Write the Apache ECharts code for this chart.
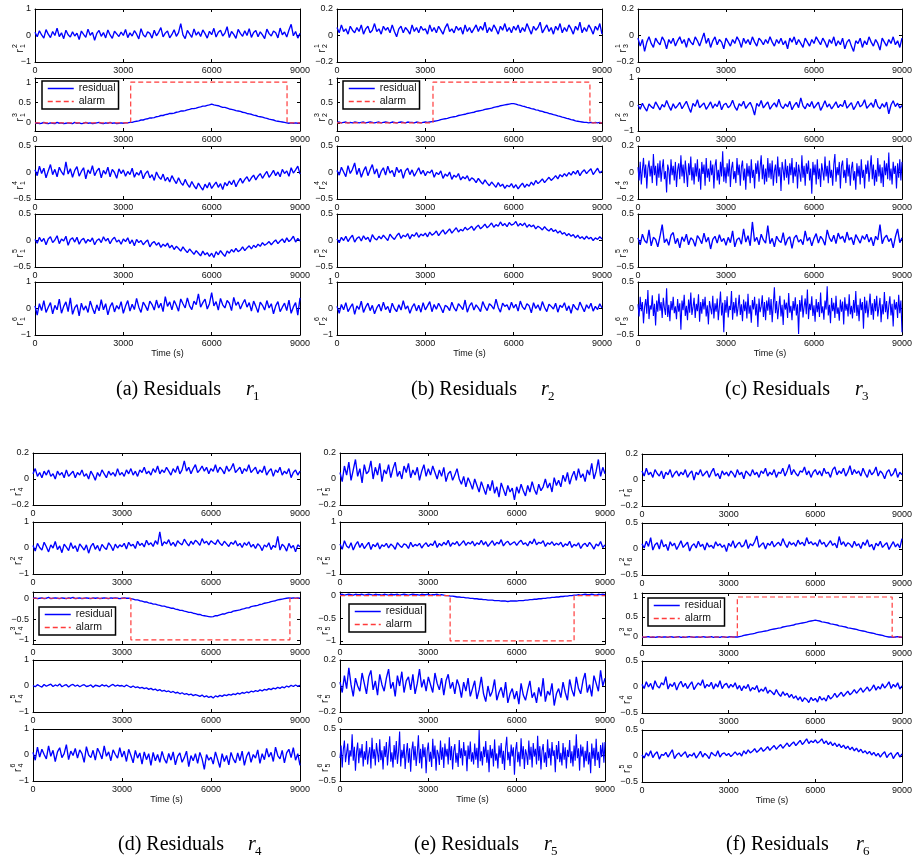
<!DOCTYPE html>
<html>
<head>
<meta charset="utf-8">
<script src="https://cdn.jsdelivr.net/npm/echarts@6/dist/echarts.min.js"></script>
<style>
  html, body { margin: 0; padding: 0; background: #fff; }
  #main { width: 915px; height: 863px; }
</style>
</head>
<body>
<div id="main"></div>
<script>
// ---- time axis ----
const TIME_END = 9000;          // seconds
const TIME_TICKS = [0, 3000, 6000, 9000];

// ---- residual records, evenly sampled over 0 .. 9000 s ----
// (121 samples = every 75 s; the busiest channels keep 241 samples = every 37.5 s)
// panel (a): residual generator r1
const r1_2 = [0.12,-0.05,0.18,0.02,-0.10,0.22,0.05,-0.08,0.15,0.00,0.28,-0.04,0.10,-0.12,0.20,0.03,-0.06,0.14,-0.02,0.09,
  -0.15,0.17,0.04,-0.07,0.24,0.01,0.12,-0.18,0.08,0.19,-0.03,0.11,-0.09,0.21,0.02,-0.11,0.16,0.06,-0.04,0.13,
  0.00,0.23,-0.08,0.10,-0.02,0.18,0.05,-0.13,0.26,0.03,-0.06,0.14,0.08,-0.10,0.20,-0.01,0.12,0.30,-0.05,0.09,
  0.17,-0.09,0.04,0.22,-0.03,0.11,0.45,0.02,-0.12,0.19,0.06,-0.07,0.25,0.01,0.14,-0.04,0.21,0.07,-0.10,0.16,
  0.03,0.27,-0.06,0.12,0.20,-0.02,0.09,0.33,-0.08,0.15,0.04,-0.11,0.23,0.08,-0.03,0.18,0.00,0.26,-0.07,0.11,
  0.19,-0.05,0.14,0.02,-0.12,0.24,0.07,-0.02,0.17,0.10,-0.09,0.28,0.03,0.13,-0.06,0.21,0.42,-0.01,0.15,-0.10,
  0.08];
const r1_3 = [-0.01,0.00,-0.02,-0.01,0.01,-0.01,-0.02,0.00,-0.01,-0.02,0.01,-0.01,0.00,-0.02,-0.01,0.00,-0.01,-0.02,0.01,-0.01,
  0.00,-0.02,-0.01,0.01,-0.01,0.00,-0.02,-0.01,0.00,0.01,-0.01,-0.02,0.00,-0.01,0.01,-0.01,0.00,-0.02,-0.01,0.00,
  -0.01,0.00,0.00,0.01,0.01,0.03,0.04,0.05,0.07,0.07,0.09,0.10,0.12,0.12,0.13,0.15,0.16,0.18,0.18,0.20,
  0.21,0.23,0.23,0.24,0.26,0.27,0.29,0.29,0.30,0.32,0.33,0.35,0.35,0.36,0.38,0.39,0.41,0.41,0.43,0.44,
  0.46,0.44,0.43,0.42,0.40,0.38,0.38,0.36,0.34,0.33,0.32,0.30,0.29,0.28,0.26,0.25,0.23,0.22,0.21,0.19,
  0.18,0.16,0.15,0.14,0.12,0.11,0.09,0.08,0.07,0.05,0.04,0.03,0.02,0.01,0.00,-0.01,0.00,-0.01,0.00,-0.01,
  0.00];
const r1_4 = [0.05,-0.06,0.12,-0.02,0.08,-0.10,0.03,0.15,-0.04,0.06,-0.08,0.10,0.01,-0.05,0.20,-0.03,0.07,-0.09,0.04,0.11,
  -0.07,0.02,0.09,-0.12,0.05,-0.02,0.13,-0.06,0.03,0.08,-0.10,0.04,-0.03,0.10,-0.08,0.06,0.00,-0.11,0.07,-0.02,
  0.05,-0.07,0.02,-0.04,0.08,-0.09,0.00,-0.05,0.04,-0.12,-0.02,0.03,-0.10,-0.04,-0.15,0.01,-0.08,-0.13,-0.03,-0.16,
  -0.09,-0.18,-0.06,-0.14,-0.21,-0.10,-0.19,-0.24,-0.13,-0.22,-0.28,-0.17,-0.25,-0.31,-0.20,-0.27,-0.33,-0.22,-0.29,-0.19,
  -0.30,-0.24,-0.18,-0.28,-0.21,-0.32,-0.19,-0.25,-0.16,-0.23,-0.14,-0.27,-0.18,-0.11,-0.20,-0.13,-0.08,-0.17,-0.10,-0.05,
  -0.14,-0.07,-0.02,-0.11,-0.04,0.02,-0.09,-0.03,0.04,-0.06,0.01,-0.08,0.06,-0.02,0.03,-0.07,0.09,-0.01,0.05,0.12,
  -0.03];
const r1_5 = [0.02,-0.05,0.06,-0.02,0.04,-0.08,0.03,0.07,-0.04,0.01,0.09,-0.06,0.03,-0.01,0.08,-0.09,0.02,0.05,-0.03,0.06,
  -0.07,0.01,0.04,-0.05,0.02,-0.02,0.05,-0.08,0.00,0.03,-0.04,0.07,-0.01,0.04,-0.06,0.02,0.06,-0.03,0.01,-0.07,
  0.03,-0.02,0.05,-0.06,0.01,-0.10,0.02,-0.04,0.00,-0.08,-0.03,0.01,-0.12,-0.05,-0.02,-0.09,-0.04,-0.13,-0.07,-0.11,
  -0.05,-0.14,-0.09,-0.17,-0.11,-0.15,-0.20,-0.12,-0.18,-0.23,-0.16,-0.21,-0.26,-0.19,-0.24,-0.29,-0.20,-0.27,-0.23,-0.30,
  -0.24,-0.32,-0.21,-0.27,-0.19,-0.25,-0.30,-0.20,-0.24,-0.17,-0.22,-0.15,-0.21,-0.18,-0.12,-0.19,-0.14,-0.10,-0.16,-0.09,
  -0.13,-0.07,-0.11,-0.04,-0.09,-0.06,-0.02,-0.08,-0.03,0.01,-0.06,-0.01,0.03,-0.04,0.05,-0.02,0.02,0.08,-0.03,0.04,
  -0.01];
const r1_6 = [0.10,-0.25,0.18,-0.08,0.30,-0.15,0.05,0.22,-0.20,0.12,-0.05,0.35,-0.18,0.08,0.25,-0.12,0.40,-0.22,0.03,0.15,
  -0.28,0.20,-0.06,0.10,-0.15,0.28,0.02,-0.20,0.14,-0.09,0.33,-0.05,0.18,-0.24,0.07,0.22,-0.13,0.11,-0.02,0.26,
  -0.18,0.09,0.30,-0.10,0.16,-0.04,0.38,0.05,-0.15,0.24,0.10,-0.08,0.28,0.15,-0.06,0.32,0.02,0.20,-0.12,0.45,
  0.08,0.25,-0.05,0.30,0.12,-0.10,0.36,0.18,0.02,0.40,0.10,-0.04,0.28,0.15,0.55,0.05,0.22,0.35,-0.02,0.18,
  0.60,0.10,0.26,-0.06,0.38,0.14,0.02,0.30,0.20,-0.08,0.42,0.12,0.25,-0.02,0.18,0.34,0.05,0.22,-0.10,0.28,
  0.08,-0.15,0.24,0.12,-0.06,0.30,0.02,0.18,-0.20,0.10,0.26,-0.12,0.05,0.20,-0.08,0.32,-0.18,0.06,0.22,-0.25,
  0.40];

// panel (b): residual generator r2
const r2_1 = [0.06,0.02,0.08,0.03,0.05,0.01,0.07,0.04,0.02,0.06,0.03,0.08,0.01,0.05,0.07,0.02,0.04,0.09,0.03,0.05,
  0.01,0.07,0.04,0.06,0.02,0.08,0.03,-0.01,0.05,0.07,0.02,0.06,0.04,0.01,0.08,0.03,0.06,0.02,0.07,0.04,
  0.05,0.01,0.08,0.03,0.06,0.02,0.07,0.04,0.01,0.06,0.09,0.03,0.05,0.02,0.07,0.04,0.06,0.01,0.08,0.03,
  0.06,0.02,0.05,0.08,0.03,0.07,0.04,0.10,0.02,0.06,0.03,0.08,0.05,0.01,0.07,0.04,0.09,0.03,0.06,0.02,
  0.07,0.04,0.08,0.02,0.06,0.03,0.09,0.05,0.01,0.07,0.04,0.06,0.10,0.02,0.05,0.08,0.03,0.06,0.01,0.07,
  0.04,0.09,0.02,0.06,0.03,0.08,0.05,0.01,0.07,0.04,0.10,0.02,0.06,0.03,0.08,0.05,0.01,0.07,0.04,0.09,
  0.01];
const r2_3 = [0.01,0.02,0.00,0.01,0.02,0.00,0.01,0.00,0.02,0.01,0.00,0.01,0.02,0.00,0.01,0.02,0.01,0.00,0.01,0.02,
  0.00,0.01,0.02,0.01,0.00,0.02,0.01,0.00,0.01,0.02,0.01,0.00,0.02,0.01,0.01,0.00,0.02,0.01,0.00,0.01,
  0.02,0.01,0.02,0.03,0.04,0.05,0.06,0.08,0.09,0.10,0.11,0.13,0.14,0.15,0.16,0.18,0.19,0.20,0.21,0.23,
  0.24,0.25,0.26,0.28,0.29,0.30,0.31,0.33,0.34,0.35,0.36,0.38,0.39,0.40,0.42,0.43,0.44,0.45,0.46,0.47,
  0.47,0.46,0.44,0.43,0.41,0.40,0.38,0.37,0.35,0.34,0.32,0.31,0.29,0.28,0.26,0.25,0.23,0.22,0.20,0.19,
  0.17,0.16,0.14,0.13,0.11,0.10,0.08,0.07,0.05,0.04,0.03,0.02,0.01,0.01,0.00,0.01,0.00,0.01,0.00,0.01,
  0.00];
const r2_4 = [0.04,-0.05,0.10,0.01,-0.08,0.13,-0.02,0.06,0.18,-0.04,0.08,-0.09,0.03,0.11,-0.06,0.05,0.15,-0.03,0.07,-0.10,
  0.02,0.09,-0.05,0.12,-0.01,0.04,-0.08,0.10,0.00,0.06,-0.11,0.03,0.08,-0.04,0.05,-0.07,0.01,0.09,-0.03,0.04,
  -0.06,0.02,-0.01,0.05,-0.09,0.00,-0.04,0.03,-0.11,-0.03,-0.07,0.01,-0.13,-0.05,-0.09,-0.02,-0.14,-0.08,-0.12,-0.06,
  -0.16,-0.10,-0.13,-0.19,-0.11,-0.17,-0.22,-0.14,-0.20,-0.25,-0.18,-0.23,-0.28,-0.19,-0.26,-0.22,-0.30,-0.24,-0.27,-0.21,
  -0.29,-0.23,-0.31,-0.25,-0.20,-0.28,-0.22,-0.26,-0.18,-0.24,-0.15,-0.21,-0.17,-0.12,-0.19,-0.14,-0.09,-0.15,-0.11,-0.06,
  -0.12,-0.04,-0.08,-0.02,-0.07,0.00,-0.05,0.02,-0.03,0.04,-0.06,0.01,0.05,-0.02,0.03,0.07,-0.04,0.02,0.08,-0.01,
  0.03];
const r2_5 = [0.03,-0.04,0.06,0.00,0.08,-0.02,0.05,0.10,-0.03,0.04,0.07,-0.01,0.09,0.02,0.06,-0.03,0.11,0.04,0.01,0.08,
  0.03,0.10,0.05,0.00,0.12,0.06,0.02,0.09,0.14,0.04,0.10,0.07,0.13,0.03,0.11,0.08,0.15,0.06,0.12,0.09,
  0.14,0.07,0.16,0.10,0.13,0.18,0.09,0.15,0.20,0.12,0.17,0.22,0.14,0.19,0.24,0.16,0.21,0.18,0.25,0.20,
  0.23,0.27,0.19,0.25,0.29,0.22,0.26,0.31,0.24,0.28,0.33,0.25,0.30,0.27,0.35,0.28,0.32,0.26,0.34,0.29,
  0.31,0.36,0.27,0.32,0.28,0.33,0.25,0.30,0.26,0.29,0.22,0.27,0.24,0.20,0.26,0.21,0.18,0.23,0.17,0.20,
  0.14,0.18,0.12,0.15,0.09,0.13,0.08,0.11,0.05,0.10,0.04,0.07,0.02,0.08,0.03,0.06,0.00,0.05,0.02,0.07,
  0.03];
const r2_6 = [0.08,-0.18,0.15,-0.05,0.22,-0.12,0.04,0.18,-0.22,0.10,-0.03,0.28,-0.15,0.06,0.20,-0.08,0.12,-0.20,0.02,0.16,
  -0.10,0.24,-0.04,0.08,-0.16,0.20,0.00,-0.12,0.14,-0.06,0.30,-0.02,0.10,-0.18,0.05,0.18,-0.09,0.12,-0.14,0.22,
  -0.05,0.10,0.26,-0.12,0.15,-0.03,0.20,0.04,-0.16,0.12,0.06,-0.08,0.24,0.02,-0.10,0.18,0.08,-0.04,0.32,-0.14,
  0.10,0.22,-0.06,0.14,0.02,-0.12,0.26,0.06,-0.08,0.18,0.10,-0.02,0.35,0.04,-0.14,0.20,0.08,0.14,-0.06,0.24,
  0.02,0.16,-0.10,0.28,0.06,-0.04,0.18,0.10,-0.16,0.22,0.00,0.14,-0.08,0.26,0.04,-0.12,0.16,0.08,-0.02,0.20,
  -0.14,0.12,0.04,0.22,-0.08,0.10,-0.18,0.16,0.02,-0.06,0.24,0.06,-0.12,0.14,0.00,0.20,-0.10,0.08,-0.04,0.18,
  0.02];

// panel (c): residual generator r3
const r3_1 = [-0.02,-0.08,-0.03,-0.12,-0.05,-0.01,-0.06,-0.09,-0.02,-0.05,-0.07,-0.01,-0.04,-0.10,-0.03,-0.06,-0.02,-0.08,-0.04,-0.01,
  -0.06,-0.03,-0.09,-0.02,-0.05,-0.07,-0.01,-0.04,-0.08,-0.03,0.02,-0.06,-0.02,-0.09,-0.04,-0.01,-0.07,-0.03,-0.05,-0.10,
  -0.02,-0.05,-0.08,-0.03,-0.06,-0.01,-0.04,-0.09,-0.02,-0.06,-0.03,-0.07,-0.01,-0.05,-0.08,-0.02,-0.04,-0.07,-0.03,-0.06,
  -0.01,-0.05,-0.08,-0.03,-0.06,-0.02,-0.07,-0.04,-0.10,-0.02,-0.05,-0.01,-0.07,-0.03,-0.06,-0.09,-0.02,-0.05,-0.08,-0.03,
  -0.06,-0.01,-0.04,-0.07,-0.02,-0.05,-0.09,-0.03,-0.06,-0.01,-0.08,-0.04,-0.07,-0.02,-0.10,-0.05,-0.03,-0.08,-0.12,-0.04,
  -0.06,-0.02,-0.09,-0.04,-0.07,-0.01,-0.05,-0.08,-0.03,-0.06,-0.11,-0.02,-0.05,-0.08,-0.03,-0.06,-0.01,-0.07,-0.04,-0.09,
  -0.02];
const r3_2 = [-0.02,-0.18,0.05,-0.12,-0.25,0.02,-0.08,-0.15,0.10,-0.05,-0.20,0.00,-0.10,0.15,-0.06,-0.22,0.03,-0.14,-0.04,0.08,
  -0.16,-0.02,0.12,-0.10,-0.30,0.04,-0.07,0.18,-0.12,-0.03,0.06,-0.18,-0.05,0.10,-0.14,0.02,-0.08,0.14,-0.20,-0.01,
  0.05,-0.12,-0.04,0.16,-0.09,-0.22,0.03,-0.06,0.12,-0.15,-0.02,0.08,-0.11,-0.40,0.04,-0.07,0.15,-0.13,-0.01,0.10,
  -0.18,-0.04,0.06,-0.10,0.20,-0.06,-0.15,0.02,-0.09,0.12,-0.20,-0.03,0.08,-0.12,0.25,-0.05,-0.16,0.04,-0.08,0.11,
  -0.14,-0.02,0.09,-0.22,-0.06,0.14,-0.10,0.02,-0.17,-0.04,0.10,-0.12,0.00,-0.08,0.16,-0.14,-0.03,0.07,-0.19,-0.05,
  0.12,-0.09,-0.01,0.18,-0.14,-0.04,0.06,-0.11,0.20,-0.07,-0.16,0.03,-0.10,0.09,-0.35,-0.02,0.14,-0.08,0.05,-0.13,
  -0.04];
const r3_4 = [0.04,-0.06,0.08,-0.09,0.02,0.11,-0.04,0.06,-0.12,0.03,0.09,-0.03,0.05,-0.08,0.14,-0.02,0.05,-0.10,0.07,-0.04,
  0.09,-0.07,0.03,0.10,-0.05,0.01,-0.15,0.06,0.02,-0.09,0.10,-0.02,0.05,-0.06,0.08,-0.11,0.02,0.07,-0.05,0.13,
  -0.03,0.06,-0.08,0.09,0.00,-0.11,0.07,-0.02,0.12,-0.06,0.04,-0.09,0.07,-0.03,0.10,-0.07,0.03,-0.13,0.08,-0.01,
  0.06,-0.10,0.11,-0.04,0.03,-0.07,0.09,-0.02,0.06,-0.12,0.05,0.10,-0.06,0.02,-0.09,0.08,-0.03,0.16,-0.07,0.04,
  -0.08,0.07,-0.03,0.10,-0.11,0.03,0.08,-0.05,0.01,-0.08,0.11,-0.02,0.06,-0.10,0.04,0.09,-0.06,0.03,-0.13,0.07,
  -0.03,0.05,-0.08,0.10,-0.04,0.02,-0.12,0.07,-0.01,0.09,-0.07,0.04,0.13,-0.05,0.06,-0.09,0.03,-0.07,0.11,-0.04,
  0.07,-0.05,0.09,-0.10,0.01,0.06,-0.08,0.12,-0.03,0.04,-0.14,0.08,0.02,-0.06,0.10,-0.04,0.05,-0.09,0.07,-0.02,
  0.11,-0.08,0.04,-0.03,0.08,-0.12,0.06,0.00,-0.07,0.13,-0.04,0.05,-0.10,0.07,-0.01,0.09,-0.06,0.03,-0.16,0.08,
  -0.02,0.06,-0.09,0.10,-0.05,0.03,-0.11,0.07,0.01,-0.06,0.12,-0.03,0.05,-0.08,0.09,-0.04,0.02,-0.10,0.06,0.14,
  -0.07,0.04,-0.02,0.08,-0.12,0.05,0.09,-0.04,0.02,-0.08,0.11,-0.03,0.06,-0.10,0.03,0.08,-0.06,0.01,-0.13,0.07,
  -0.03,0.05,-0.09,0.10,-0.04,0.02,-0.12,0.06,-0.01,0.09,-0.07,0.03,0.13,-0.05,0.06,-0.10,0.02,-0.07,0.11,-0.03,
  0.06,-0.08,0.04,-0.11,0.09,-0.02,0.07,-0.05,0.15,-0.06,0.03,-0.09,0.08,-0.01,0.05,-0.12,0.07,-0.04,0.10,-0.06,
  0.08];
const r3_5 = [0.05,-0.08,0.12,0.00,-0.05,0.20,-0.10,0.06,0.02,-0.12,0.08,0.30,-0.04,0.03,-0.09,0.10,0.15,-0.06,0.04,-0.14,
  0.07,-0.02,0.12,-0.08,0.05,0.01,-0.11,0.09,0.03,-0.06,0.14,-0.03,0.06,-0.16,0.02,0.08,-0.05,0.11,-0.02,0.04,
  -0.09,0.06,-0.04,0.18,-0.12,0.02,0.05,-0.07,0.22,-0.03,0.09,-0.10,0.35,-0.02,0.06,-0.08,0.12,0.01,-0.05,0.28,
  -0.06,0.04,-0.12,0.08,0.00,-0.04,0.15,-0.09,0.03,0.07,-0.15,0.05,0.10,-0.03,0.02,-0.08,0.18,-0.01,0.06,-0.10,
  0.04,0.13,-0.05,0.08,0.02,-0.09,0.20,0.05,-0.02,0.10,-0.06,0.14,0.03,0.08,-0.04,0.16,0.01,0.06,-0.08,0.11,
  0.03,-0.05,0.09,0.02,0.12,-0.03,0.06,-0.10,0.08,0.01,0.30,-0.06,0.05,0.10,-0.02,0.04,-0.14,0.07,0.22,-0.04,
  0.05];
const r3_6 = [0.08,-0.15,0.22,-0.05,0.12,-0.28,0.03,0.18,-0.10,0.35,-0.20,0.06,-0.02,0.25,-0.14,0.09,-0.32,0.15,-0.06,0.28,
  -0.04,0.12,-0.18,0.20,0.01,-0.12,0.38,-0.16,0.07,-0.24,0.14,-0.03,0.22,-0.09,0.04,-0.20,0.18,-0.06,0.10,-0.40,
  0.15,-0.03,0.26,-0.14,0.05,-0.22,0.17,-0.08,0.30,-0.12,0.02,0.20,-0.18,0.09,-0.05,0.27,-0.25,0.12,-0.10,0.18,
  -0.02,0.22,-0.15,0.06,-0.30,0.14,0.01,-0.11,0.24,-0.19,0.10,-0.06,0.19,-0.22,0.04,0.32,-0.13,0.11,-0.45,0.16,
  -0.08,0.23,-0.17,0.05,-0.03,0.33,-0.21,0.12,-0.09,0.20,-0.15,0.02,0.26,-0.12,0.08,-0.24,0.17,-0.05,0.13,-0.19,
  0.28,-0.10,0.06,-0.27,0.16,-0.02,0.22,-0.13,0.09,-0.35,0.19,-0.07,0.04,0.25,-0.16,0.12,-0.22,0.15,-0.04,0.21,
  -0.12,0.18,-0.26,0.08,0.40,-0.09,0.14,-0.20,0.03,0.24,-0.15,0.07,-0.31,0.17,-0.02,0.11,-0.18,0.29,-0.08,0.05,
  -0.22,0.14,-0.04,0.21,-0.13,0.08,-0.48,0.16,-0.06,0.25,-0.17,0.03,0.19,-0.11,0.36,-0.20,0.09,-0.03,0.23,-0.14,
  0.06,-0.25,0.18,-0.07,0.12,-0.16,0.30,-0.09,0.04,-0.21,0.15,-0.02,0.42,-0.13,0.07,-0.28,0.20,-0.05,0.11,-0.18,
  0.24,-0.10,0.02,-0.23,0.17,-0.06,0.13,-0.30,0.21,-0.04,0.09,-0.15,0.27,-0.11,0.05,-0.19,0.16,-0.08,0.33,-0.14,
  0.07,-0.24,0.19,-0.03,0.12,-0.38,0.22,-0.09,0.15,-0.17,0.04,0.28,-0.12,0.10,-0.21,0.18,-0.05,0.24,-0.15,0.02,
  0.20,-0.26,0.08,-0.11,0.31,-0.07,0.14,-0.20,0.05,0.23,-0.13,0.09,-0.34,0.17,-0.02,0.12,-0.18,0.26,-0.09,0.15,
  -0.45];

// panel (d): residual generator r4
const r4_1 = [0.04,0.08,0.02,0.05,0.01,0.06,0.03,0.07,0.02,0.04,0.00,0.06,0.03,0.05,0.01,0.07,0.02,0.04,0.06,0.01,
  0.05,0.03,0.07,0.02,0.04,0.00,0.06,0.03,-0.01,0.05,0.02,0.07,0.04,0.01,0.06,0.03,0.05,0.02,0.08,0.03,
  0.05,0.02,0.07,0.04,0.08,0.03,0.06,0.02,0.07,0.05,0.09,0.04,0.06,0.03,0.08,0.05,0.10,0.04,0.07,0.05,
  0.09,0.06,0.03,0.08,0.05,0.10,0.04,0.07,0.14,0.06,0.09,0.04,0.08,0.11,0.05,0.07,0.10,0.06,0.09,0.04,
  0.08,0.06,0.11,0.05,0.09,0.07,0.04,0.10,0.06,0.08,0.12,0.05,0.07,0.09,0.04,0.08,0.06,0.11,0.05,0.07,
  0.09,0.04,0.07,0.05,0.10,0.03,0.06,0.08,0.02,0.07,0.05,0.09,0.03,0.06,0.04,0.08,0.01,0.05,0.07,0.03,
  0.06];
const r4_2 = [0.10,-0.12,0.18,0.02,-0.08,0.22,0.05,-0.15,0.12,0.00,0.25,-0.06,0.08,-0.18,0.15,0.03,-0.10,0.20,-0.02,0.09,
  -0.14,0.16,0.04,-0.08,0.12,-0.20,0.06,0.18,-0.05,0.10,-0.12,0.14,0.02,-0.06,0.20,0.08,-0.10,0.15,0.00,0.12,
  0.05,0.18,-0.04,0.22,0.08,0.14,-0.02,0.26,0.10,0.18,0.04,0.30,0.12,0.20,0.06,0.28,0.14,0.62,0.08,0.24,
  0.16,0.32,0.10,0.22,0.06,0.28,0.18,0.12,0.34,0.20,0.08,0.26,0.14,0.30,0.22,0.10,0.36,0.18,0.26,0.12,
  0.28,0.20,0.14,0.32,0.18,0.10,0.26,0.16,0.06,0.22,0.14,0.28,0.08,0.18,0.02,0.20,0.10,0.24,0.04,0.14,
  -0.02,0.16,0.08,-0.10,0.12,0.04,0.20,-0.06,0.10,0.02,0.45,-0.08,0.14,0.06,-0.12,0.18,0.00,0.10,-0.15,0.12,
  0.05];
const r4_3 = [0.00,0.01,-0.01,0.00,0.01,-0.01,0.00,0.02,-0.01,0.00,0.01,0.00,-0.01,0.01,0.00,-0.01,0.01,0.00,0.02,-0.01,
  0.00,0.01,-0.01,0.00,0.01,0.00,-0.01,0.01,0.00,0.01,-0.01,0.00,0.01,0.00,-0.01,0.01,0.00,0.01,0.00,-0.01,
  0.00,0.01,0.00,0.00,-0.01,-0.02,-0.04,-0.04,-0.06,-0.07,-0.09,-0.09,-0.11,-0.12,-0.14,-0.14,-0.16,-0.17,-0.19,-0.19,
  -0.21,-0.22,-0.24,-0.24,-0.26,-0.27,-0.29,-0.29,-0.31,-0.32,-0.34,-0.34,-0.36,-0.37,-0.39,-0.39,-0.41,-0.42,-0.43,-0.44,
  -0.45,-0.44,-0.42,-0.42,-0.40,-0.38,-0.38,-0.36,-0.34,-0.34,-0.31,-0.30,-0.29,-0.28,-0.26,-0.25,-0.23,-0.23,-0.20,-0.19,
  -0.18,-0.17,-0.15,-0.14,-0.12,-0.11,-0.10,-0.08,-0.07,-0.06,-0.04,-0.03,-0.02,-0.01,0.00,0.01,0.00,0.01,0.00,0.01,
  0.00];
const r4_5 = [0.02,-0.03,0.05,0.00,-0.04,0.06,-0.01,0.03,0.07,-0.02,0.04,0.00,0.08,-0.03,0.02,0.05,-0.04,0.03,0.06,-0.01,
  0.04,-0.03,0.02,0.05,-0.02,0.00,0.04,-0.05,0.03,0.01,-0.02,0.05,0.00,0.03,-0.04,0.02,0.06,-0.01,0.03,0.00,
  0.02,-0.03,0.04,-0.01,-0.05,0.00,-0.06,-0.03,-0.08,-0.05,-0.10,-0.07,-0.13,-0.09,-0.15,-0.12,-0.18,-0.14,-0.20,-0.17,
  -0.22,-0.19,-0.25,-0.21,-0.27,-0.24,-0.30,-0.26,-0.32,-0.29,-0.34,-0.31,-0.37,-0.33,-0.36,-0.40,-0.35,-0.42,-0.38,-0.44,
  -0.40,-0.46,-0.38,-0.42,-0.36,-0.40,-0.34,-0.37,-0.32,-0.35,-0.30,-0.33,-0.27,-0.31,-0.25,-0.28,-0.23,-0.26,-0.20,-0.23,
  -0.18,-0.21,-0.15,-0.19,-0.13,-0.16,-0.10,-0.14,-0.08,-0.11,-0.05,-0.09,-0.03,-0.07,0.00,-0.04,0.03,-0.02,0.04,-0.01,
  0.02];
const r4_6 = [0.10,-0.20,0.30,-0.08,0.22,0.02,-0.15,0.35,-0.05,0.18,-0.25,0.12,0.28,-0.10,0.05,0.40,-0.18,0.15,-0.02,0.25,
  -0.12,0.20,0.05,-0.28,0.32,0.00,-0.10,0.18,-0.20,0.26,0.08,-0.15,0.35,-0.05,0.12,-0.22,0.20,0.02,-0.12,0.28,
  -0.08,0.15,-0.25,0.22,-0.02,-0.30,0.18,-0.12,0.08,-0.35,0.12,-0.18,0.05,-0.40,0.10,-0.22,0.02,-0.28,0.14,-0.15,
  -0.32,0.06,-0.20,0.12,-0.38,-0.05,0.08,-0.28,-0.10,0.15,-0.45,-0.02,-0.22,0.05,-0.32,0.10,-0.15,-0.55,0.02,-0.20,
  -0.08,-0.35,0.12,-0.18,-0.48,0.05,-0.25,-0.02,-0.38,0.10,-0.15,-0.30,0.08,-0.22,0.15,-0.40,-0.05,0.12,-0.28,0.02,
  -0.12,0.20,-0.32,0.05,-0.18,0.25,-0.08,0.10,-0.25,0.30,-0.02,-0.15,0.18,-0.30,0.08,0.22,-0.10,0.28,-0.20,0.05,
  -0.40];

// panel (e): residual generator r5
const r5_1 = [0.05,-0.02,0.10,0.03,0.13,-0.01,0.07,0.15,0.02,0.08,-0.03,0.11,0.04,0.06,0.14,0.00,0.09,0.03,0.12,-0.02,
  0.07,0.04,0.11,0.01,0.08,0.13,0.02,0.06,0.00,0.10,0.05,0.12,0.01,0.07,0.03,0.09,-0.01,0.06,0.11,0.02,
  0.08,0.03,0.10,0.05,0.00,0.07,0.02,0.09,-0.02,0.04,0.06,-0.01,0.03,0.08,0.00,-0.04,0.02,-0.06,0.01,-0.03,
  -0.08,0.00,-0.05,-0.10,-0.02,-0.07,-0.12,-0.04,-0.09,-0.01,-0.11,-0.06,-0.14,-0.03,-0.08,-0.13,-0.05,-0.10,-0.07,-0.16,
  -0.06,-0.11,-0.04,-0.09,-0.13,-0.05,-0.10,-0.02,-0.08,-0.12,-0.04,-0.09,-0.06,0.00,-0.07,-0.03,-0.10,0.01,-0.05,-0.01,
  -0.06,0.03,-0.02,0.05,-0.04,0.02,0.06,-0.01,0.08,0.01,0.04,-0.02,0.07,0.03,0.12,0.00,0.06,0.15,0.02,0.09,
  0.04];
const r5_2 = [0.15,-0.05,0.28,0.08,0.00,0.20,-0.08,0.12,0.25,0.02,0.18,-0.02,0.10,0.22,-0.06,0.14,0.05,0.20,-0.04,0.12,
  0.06,0.18,0.00,0.15,0.08,-0.05,0.20,0.10,0.02,0.16,0.12,-0.02,0.22,0.05,0.14,0.08,0.18,0.00,0.12,0.20,
  0.05,0.16,0.10,0.28,0.02,0.18,0.08,0.22,0.12,0.30,0.06,0.20,0.14,0.25,0.08,0.18,0.28,0.10,0.22,0.15,
  0.26,0.08,0.20,0.14,0.30,0.12,0.24,0.06,0.18,0.28,0.10,0.22,0.16,0.32,0.08,0.20,0.26,0.12,0.18,0.24,
  0.10,0.22,0.30,0.14,0.20,0.08,0.26,0.16,0.35,0.12,0.22,0.18,0.28,0.06,0.20,0.14,0.24,0.10,0.18,0.12,
  0.22,0.04,0.16,0.10,0.26,0.02,0.14,0.08,0.20,-0.02,0.12,0.18,0.05,0.22,0.10,-0.04,0.15,0.08,0.25,0.02,
  0.12];
const r5_3 = [0.02,0.03,0.01,0.02,0.03,0.02,0.01,0.03,0.02,0.02,0.03,0.01,0.02,0.03,0.02,0.01,0.03,0.02,0.02,0.01,
  0.03,0.02,0.01,0.03,0.02,0.02,0.03,0.01,0.02,0.03,0.02,0.01,0.02,0.03,0.02,0.02,0.01,0.03,0.02,0.02,
  0.03,0.01,0.02,0.02,0.03,0.01,0.02,0.01,0.00,0.00,-0.01,-0.01,-0.02,-0.03,-0.03,-0.04,-0.04,-0.05,-0.05,-0.06,
  -0.06,-0.07,-0.07,-0.08,-0.08,-0.09,-0.09,-0.10,-0.10,-0.10,-0.11,-0.11,-0.11,-0.12,-0.12,-0.12,-0.13,-0.12,-0.12,-0.12,
  -0.12,-0.11,-0.11,-0.11,-0.10,-0.10,-0.09,-0.09,-0.08,-0.08,-0.07,-0.07,-0.06,-0.06,-0.05,-0.05,-0.04,-0.04,-0.03,-0.03,
  -0.02,-0.02,-0.01,-0.01,0.00,0.00,0.01,0.01,0.02,0.01,0.02,0.03,0.02,0.02,0.03,0.02,0.01,0.03,0.02,0.03,
  0.02];
const r5_4 = [0.03,-0.05,0.08,-0.02,0.14,0.01,-0.08,0.06,0.00,-0.04,0.10,0.02,-0.06,0.07,0.12,-0.03,0.04,-0.07,0.09,0.01,
  -0.04,0.06,0.13,-0.02,0.03,-0.08,0.08,0.00,0.11,-0.05,0.04,0.07,-0.03,0.09,-0.06,0.02,0.13,-0.01,0.05,-0.04,
  0.07,0.01,-0.05,0.10,0.02,-0.03,0.06,-0.07,0.04,0.09,-0.02,0.03,-0.06,0.05,0.00,-0.09,0.03,-0.04,0.06,-0.08,
  -0.02,0.04,-0.10,-0.03,0.07,-0.06,-0.12,0.00,-0.08,-0.04,0.05,-0.11,-0.05,-0.01,-0.09,0.03,-0.13,-0.06,-0.02,-0.10,
  -0.04,-0.14,0.02,-0.07,-0.11,-0.03,0.04,-0.09,-0.05,-0.13,-0.01,-0.08,0.06,-0.12,-0.04,-0.07,0.02,-0.15,-0.06,-0.02,
  -0.09,0.03,-0.05,-0.11,0.05,-0.03,-0.08,0.07,-0.02,-0.06,0.04,0.10,-0.05,0.01,-0.08,0.08,0.02,-0.04,0.12,0.00,
  0.06];
const r5_6 = [-0.06,0.18,-0.24,0.10,0.28,-0.14,0.04,0.22,-0.19,0.09,-0.03,0.40,-0.11,0.16,-0.30,0.06,0.24,-0.16,0.13,-0.05,
  0.21,-0.22,0.07,-0.09,0.27,-0.18,0.02,0.15,-0.26,0.33,-0.07,0.11,-0.20,0.23,0.04,-0.14,0.30,-0.10,0.09,-0.28,
  0.17,-0.04,0.25,-0.20,0.08,0.36,-0.13,0.05,-0.24,0.19,-0.09,0.27,-0.17,0.06,0.45,-0.22,0.10,-0.06,0.21,-0.27,
  0.03,0.23,-0.15,0.13,-0.32,0.09,0.26,-0.10,0.17,-0.21,0.05,0.38,-0.16,0.12,-0.26,0.21,-0.04,0.15,-0.35,0.08,
  0.24,-0.13,0.06,-0.23,0.31,-0.07,0.18,-0.30,0.10,0.02,-0.19,0.28,-0.09,0.15,-0.25,0.22,-0.03,0.12,-0.18,0.34,
  -0.10,0.17,-0.28,0.08,0.21,-0.15,0.04,-0.23,0.29,-0.06,0.13,-0.20,0.25,-0.02,0.09,-0.31,0.18,-0.08,0.26,-0.13,
  0.05,-0.18,0.22,-0.09,0.14,-0.25,0.48,-0.12,0.07,-0.20,0.16,-0.04,0.27,-0.15,0.10,-0.33,0.19,-0.06,0.12,-0.22,
  0.30,-0.11,0.03,-0.26,0.18,-0.05,0.23,-0.17,0.08,-0.29,0.14,0.35,-0.10,0.06,-0.21,0.20,-0.03,0.15,-0.38,0.09,
  0.25,-0.14,0.06,-0.22,0.32,-0.08,0.17,-0.27,0.11,0.01,-0.19,0.28,-0.09,0.16,-0.24,0.23,-0.03,0.12,-0.18,0.37,
  -0.11,0.17,-0.28,0.08,0.21,-0.15,0.05,-0.23,0.30,-0.06,0.13,-0.20,0.25,-0.02,0.09,-0.33,0.19,-0.08,0.27,-0.14,
  0.04,-0.20,0.23,-0.09,0.15,-0.26,0.10,-0.04,0.29,-0.16,0.07,-0.22,0.18,-0.11,0.40,-0.06,0.13,-0.30,0.20,-0.03,
  0.16,-0.24,0.08,-0.12,0.27,-0.18,0.05,-0.35,0.22,-0.07,0.14,-0.21,0.31,-0.10,0.06,-0.25,0.19,-0.04,0.24,-0.15,
  0.25];

// panel (f): residual generator r6
const r6_1 = [0.07,0.03,0.09,0.04,0.06,0.02,0.08,0.05,0.03,0.07,0.01,0.06,0.04,0.08,0.02,0.05,0.07,0.03,0.06,0.04,
  0.08,0.02,0.05,0.07,0.00,0.06,0.04,0.08,0.03,0.05,0.07,0.02,0.06,0.09,0.03,0.05,0.01,0.07,0.04,0.06,
  0.03,0.07,0.05,0.02,0.08,0.04,0.06,0.01,0.07,0.05,0.03,0.08,0.04,0.06,0.02,0.07,0.05,0.09,0.03,0.06,
  0.04,0.08,0.02,0.06,0.05,0.09,0.03,0.07,0.12,0.04,0.08,0.05,0.03,0.07,0.06,0.10,0.04,0.07,0.02,0.06,
  0.08,0.04,0.07,0.03,0.09,0.05,0.06,0.02,0.08,0.10,0.04,0.07,0.05,0.09,0.03,0.06,0.11,0.04,0.08,0.05,
  0.07,0.03,0.09,0.05,0.02,0.08,0.04,0.06,0.10,0.03,0.07,0.05,0.01,0.06,0.08,0.03,0.05,0.09,0.02,0.06,
  0.04];
const r6_2 = [0.10,0.02,0.15,0.05,0.22,-0.02,0.08,0.12,0.00,0.18,0.04,0.09,-0.03,0.14,0.06,0.11,-0.01,0.07,0.16,0.03,
  0.08,0.13,-0.04,0.06,0.10,0.02,0.15,0.05,0.09,-0.02,0.12,0.04,0.07,0.01,0.14,0.06,0.10,0.03,0.08,-0.05,
  0.11,0.05,0.16,0.02,0.09,0.13,0.04,0.07,0.18,0.01,0.10,0.06,0.14,0.25,0.03,0.08,0.12,0.00,0.11,0.07,
  0.15,0.04,0.09,0.13,0.06,0.20,0.10,0.03,0.14,0.08,0.12,0.05,0.17,0.09,0.13,0.06,0.22,0.10,0.14,0.08,
  0.12,0.05,0.18,0.09,0.13,0.04,0.10,0.16,0.07,0.11,0.02,0.24,0.08,0.14,0.05,0.12,0.09,0.03,0.15,0.06,
  0.10,0.01,0.13,0.07,0.18,0.04,0.09,-0.02,0.11,0.06,0.15,0.03,0.08,0.12,-0.01,0.07,0.14,0.04,0.10,0.02,
  0.20];
const r6_3 = [0.00,-0.01,0.00,0.01,-0.01,0.00,-0.01,0.00,0.01,-0.01,0.00,0.00,-0.01,0.01,0.00,-0.01,0.00,0.01,-0.01,0.00,
  -0.01,0.00,0.01,0.00,-0.01,0.00,0.00,-0.01,0.01,0.00,-0.01,0.00,0.01,-0.01,0.00,0.00,-0.01,0.01,0.00,-0.01,
  0.00,0.01,0.00,0.00,0.00,0.01,0.02,0.04,0.05,0.06,0.07,0.08,0.09,0.11,0.12,0.13,0.14,0.15,0.16,0.18,
  0.19,0.20,0.21,0.22,0.23,0.25,0.26,0.27,0.28,0.29,0.30,0.32,0.33,0.34,0.35,0.36,0.37,0.39,0.40,0.41,
  0.42,0.41,0.40,0.38,0.37,0.36,0.35,0.33,0.32,0.31,0.30,0.28,0.27,0.26,0.25,0.23,0.22,0.21,0.20,0.19,
  0.17,0.16,0.15,0.14,0.12,0.11,0.10,0.09,0.07,0.06,0.05,0.04,0.02,0.01,0.00,0.00,-0.01,0.00,0.01,0.00,
  -0.01];
const r6_4 = [0.05,-0.03,0.10,0.00,0.07,-0.05,0.12,0.02,-0.02,0.08,0.04,0.20,-0.04,0.06,0.01,0.09,-0.06,0.05,0.11,0.00,
  0.07,-0.03,0.04,0.10,-0.05,0.02,0.08,0.03,0.14,-0.02,0.05,0.01,0.09,-0.04,0.06,0.00,0.12,-0.03,0.04,0.07,
  -0.02,0.05,0.00,0.08,-0.04,0.03,-0.07,0.02,-0.03,0.05,-0.08,-0.01,-0.05,0.03,-0.10,-0.04,-0.08,0.00,-0.12,-0.06,
  -0.10,-0.15,-0.05,-0.13,-0.18,-0.09,-0.16,-0.12,-0.20,-0.14,-0.22,-0.17,-0.25,-0.19,-0.28,-0.21,-0.24,-0.30,-0.20,-0.26,
  -0.22,-0.29,-0.18,-0.25,-0.21,-0.27,-0.16,-0.23,-0.19,-0.12,-0.20,-0.15,-0.10,-0.18,-0.13,-0.08,-0.15,-0.11,-0.05,-0.12,
  -0.07,-0.02,-0.10,-0.05,0.00,-0.08,-0.03,0.04,-0.06,0.01,-0.04,0.06,-0.02,0.03,0.10,-0.03,0.05,0.00,0.08,-0.04,
  0.02];
const r6_5 = [0.02,-0.04,0.06,0.00,0.10,-0.03,0.04,0.08,-0.06,0.03,0.01,0.07,-0.02,0.05,0.12,-0.05,0.02,0.06,-0.01,0.04,
  0.08,-0.03,0.03,0.00,0.06,-0.04,0.02,0.09,-0.02,0.05,0.01,-0.05,0.07,0.03,0.00,0.10,-0.02,0.04,0.06,0.01,
  0.05,-0.01,0.03,0.08,0.02,0.06,0.00,0.10,0.04,0.12,0.06,0.09,0.14,0.07,0.11,0.16,0.09,0.13,0.18,0.11,
  0.16,0.20,0.13,0.18,0.22,0.15,0.20,0.25,0.18,0.23,0.27,0.20,0.25,0.30,0.22,0.27,0.33,0.24,0.29,0.26,
  0.31,0.25,0.28,0.33,0.24,0.29,0.22,0.27,0.20,0.25,0.18,0.23,0.16,0.21,0.14,0.19,0.12,0.17,0.10,0.15,
  0.08,0.13,0.06,0.10,0.04,0.09,0.02,0.07,0.00,0.05,-0.02,0.04,0.08,-0.03,0.03,0.06,-0.05,0.02,0.07,-0.02,
  0.04];

// ---- alarm signals: [time (s), flag] ----
const alarm1 = [[0, 0], [3250, 0], [3250, 1], [8560, 1], [8560, 0], [9000, 0]];
const alarm2 = [[0, 0], [3260, 0], [3260, 1], [8590, 1], [8590, 0], [9000, 0]];
const alarm4 = [[0, 0], [3300, 0], [3300, -1], [8660, -1], [8660, 0], [9000, 0]];
const alarm5 = [[0, 0], [3740, 0], [3740, -1], [7950, -1], [7950, 0], [9000, 0]];
const alarm6 = [[0, 0], [3300, 0], [3300, 1], [8660, 1], [8660, 0], [9000, 0]];

// ---- panel contents: which residual components, axis limits and ticks ----
const panels = [
  { tag: 'a', gen: 1, rows: [
    { comp: 2, values: r1_2, lim: [-1, 1], ticks: [-1, 0, 1] },
    { comp: 3, values: r1_3, lim: [-0.2, 1.1], ticks: [0, 0.5, 1], alarm: alarm1 },
    { comp: 4, values: r1_4, lim: [-0.5, 0.5], ticks: [-0.5, 0, 0.5] },
    { comp: 5, values: r1_5, lim: [-0.5, 0.5], ticks: [-0.5, 0, 0.5] },
    { comp: 6, values: r1_6, lim: [-1, 1], ticks: [-1, 0, 1] } ] },
  { tag: 'b', gen: 2, rows: [
    { comp: 1, values: r2_1, lim: [-0.2, 0.2], ticks: [-0.2, 0, 0.2] },
    { comp: 3, values: r2_3, lim: [-0.2, 1.1], ticks: [0, 0.5, 1], alarm: alarm2 },
    { comp: 4, values: r2_4, lim: [-0.5, 0.5], ticks: [-0.5, 0, 0.5] },
    { comp: 5, values: r2_5, lim: [-0.5, 0.5], ticks: [-0.5, 0, 0.5] },
    { comp: 6, values: r2_6, lim: [-1, 1], ticks: [-1, 0, 1] } ] },
  { tag: 'c', gen: 3, rows: [
    { comp: 1, values: r3_1, lim: [-0.2, 0.2], ticks: [-0.2, 0, 0.2] },
    { comp: 2, values: r3_2, lim: [-1, 1], ticks: [-1, 0, 1] },
    { comp: 4, values: r3_4, lim: [-0.2, 0.2], ticks: [-0.2, 0, 0.2] },
    { comp: 5, values: r3_5, lim: [-0.5, 0.5], ticks: [-0.5, 0, 0.5] },
    { comp: 6, values: r3_6, lim: [-0.5, 0.5], ticks: [-0.5, 0, 0.5] } ] },
  { tag: 'd', gen: 4, rows: [
    { comp: 1, values: r4_1, lim: [-0.2, 0.2], ticks: [-0.2, 0, 0.2] },
    { comp: 2, values: r4_2, lim: [-1, 1], ticks: [-1, 0, 1] },
    { comp: 3, values: r4_3, lim: [-1.1, 0.15], ticks: [-1, -0.5, 0], alarm: alarm4 },
    { comp: 5, values: r4_5, lim: [-1, 1], ticks: [-1, 0, 1] },
    { comp: 6, values: r4_6, lim: [-1, 1], ticks: [-1, 0, 1] } ] },
  { tag: 'e', gen: 5, rows: [
    { comp: 1, values: r5_1, lim: [-0.2, 0.2], ticks: [-0.2, 0, 0.2] },
    { comp: 2, values: r5_2, lim: [-1, 1], ticks: [-1, 0, 1] },
    { comp: 3, values: r5_3, lim: [-1.07, 0.08], ticks: [-1, -0.5, 0], alarm: alarm5 },
    { comp: 4, values: r5_4, lim: [-0.2, 0.2], ticks: [-0.2, 0, 0.2] },
    { comp: 6, values: r5_6, lim: [-0.5, 0.5], ticks: [-0.5, 0, 0.5] } ] },
  { tag: 'f', gen: 6, rows: [
    { comp: 1, values: r6_1, lim: [-0.2, 0.2], ticks: [-0.2, 0, 0.2] },
    { comp: 2, values: r6_2, lim: [-0.5, 0.5], ticks: [-0.5, 0, 0.5] },
    { comp: 3, values: r6_3, lim: [-0.2, 1.1], ticks: [0, 0.5, 1], alarm: alarm6 },
    { comp: 4, values: r6_4, lim: [-0.5, 0.5], ticks: [-0.5, 0, 0.5] },
    { comp: 5, values: r6_5, lim: [-0.5, 0.5], ticks: [-0.5, 0, 0.5] } ] }
];

// ---- layout ----
const SANS = '"Liberation Sans", Arial, Helvetica, sans-serif';
const SERIF = '"Liberation Serif", "Times New Roman", serif';
const LAYOUT = {
  a: { x: [35, 300], tops: [9, 78, 146, 214, 282], h: 53, legend: [7, 3],  caption: [116, 390] },
  b: { x: [337, 602], tops: [9, 78, 146, 214, 282], h: 53, legend: [6, 3],  caption: [411, 390] },
  c: { x: [638, 903], tops: [9, 78, 146, 214, 282], h: 53, legend: null,    caption: [725, 390] },
  d: { x: [33, 300], tops: [453, 522, 592, 660, 729], h: 52, legend: [6, 15], caption: [118, 845] },
  e: { x: [340, 605], tops: [453, 522, 592, 660, 729], h: 52, legend: [9, 12], caption: [414, 845] },
  f: { x: [642, 907], tops: [454, 523, 593, 661, 730], h: 52, legend: [6, 5],  caption: [726, 845] }
};

const fmtTick = v => (v < 0 ? '\u2212' + String(-v) : String(v));
const axisLineStyle = { show: true, onZero: false, lineStyle: { color: '#000', width: 1 } };

const grid = [], xAxis = [], yAxis = [], series = [], graphic = [], legend = [];

function rLabel(x, y, comp, gen) {
  // r with stacked superscript (component) and subscript (generator), rotated to read upward
  const txt = (t, px, py, size) => ({
    type: 'text', x: px, y: py, silent: true,
    style: { text: t, font: size + 'px ' + SANS, fill: '#000', textAlign: 'left', textVerticalAlign: 'middle',
             align: 'left', verticalAlign: 'middle' }
  });
  return { type: 'group', x: x, y: y, rotation: Math.PI / 2, silent: true,
    children: [ txt('r', 0, 0, 10), txt(String(comp), 4.5, -4.5, 7), txt(String(gen), 4.5, 3, 7) ] };
}

panels.forEach(p => {
  const L = LAYOUT[p.tag];
  const x0 = L.x[0], w = L.x[1] - L.x[0];
  p.rows.forEach((row, ri) => {
    const gi = grid.length;
    const top = L.tops[ri];
    const last = ri === p.rows.length - 1;
    grid.push({ left: x0, top: top, width: w, height: L.h, show: false });

    const xBase = { gridIndex: gi, type: 'value', min: 0, max: TIME_END, interval: 3000,
      axisLine: axisLineStyle, splitLine: { show: false },
      axisTick: { inside: true, length: 3, lineStyle: { color: '#000', width: 1 } } };
    xAxis.push(Object.assign({}, xBase, { position: 'bottom',
      axisLabel: { fontSize: 9, margin: 4, color: '#111', fontFamily: SANS, formatter: v => String(v) },
      name: last ? 'Time (s)' : '', nameLocation: 'middle', nameGap: 3,
      nameTextStyle: { fontSize: 9, color: '#111', fontFamily: SANS, verticalAlign: 'top' } }));
    xAxis.push(Object.assign({}, xBase, { position: 'top', axisLabel: { show: false } }));

    const yBase = { gridIndex: gi, type: 'value', min: row.lim[0], max: row.lim[1],
      axisLine: axisLineStyle, splitLine: { show: false },
      axisTick: { inside: true, length: 3, customValues: row.ticks, lineStyle: { color: '#000', width: 1 } } };
    yAxis.push(Object.assign({}, yBase, { position: 'left',
      axisLabel: { customValues: row.ticks, fontSize: 9, margin: 4, color: '#111', fontFamily: SANS, formatter: fmtTick } }));
    yAxis.push(Object.assign({}, yBase, { position: 'right', axisLabel: { show: false } }));

    const n = row.values.length;
    series.push({
      type: 'line', name: 'residual', xAxisIndex: 2 * gi, yAxisIndex: 2 * gi,
      data: row.values.map((v, i) => [i * TIME_END / (n - 1), v]),
      symbol: 'none', showSymbol: false, animation: false, silent: true,
      lineStyle: { color: '#0000ff', width: n > 150 ? 1.1 : 1.35 }, itemStyle: { color: '#0000ff' }, z: 2
    });
    if (row.alarm) {
      series.push({
        type: 'line', name: 'alarm', xAxisIndex: 2 * gi, yAxisIndex: 2 * gi,
        data: row.alarm, symbol: 'none', showSymbol: false, animation: false, silent: true,
        lineStyle: { color: '#ff3b3b', width: 1.2, type: [5, 3] }, itemStyle: { color: '#ff3b3b' }, z: 3
      });
      if (L.legend) {
        legend.push({
          data: ['residual', 'alarm'], orient: 'vertical', selectedMode: false,
          left: x0 + L.legend[0], top: top + L.legend[1],
          padding: [2, 3, 2, 5], itemGap: 2, itemWidth: 26, itemHeight: 12,
          itemStyle: { opacity: 0 }, lineStyle: { width: 1.5 },
          backgroundColor: '#fff', borderColor: '#000', borderWidth: 1.5, borderRadius: 0,
          textStyle: { fontSize: 10.5, color: '#111', fontFamily: SANS }, z: 10
        });
      }
    }
    graphic.push(rLabel(x0 - 15, top + L.h / 2 + 17, row.comp, p.gen));
  });

  // panel caption
  const cx = L.caption[0], cy = L.caption[1];
  graphic.push({ type: 'text', x: cx, y: cy, silent: true,
    style: { text: '(' + p.tag + ') Residuals', font: '20px ' + SERIF, fill: '#000',
             textVerticalAlign: 'middle', verticalAlign: 'middle' } });
  graphic.push({ type: 'text', x: cx + 130, y: cy, silent: true,
    style: { text: 'r', font: 'italic 20px ' + SERIF, fill: '#000', textVerticalAlign: 'middle', verticalAlign: 'middle' } });
  graphic.push({ type: 'text', x: cx + 137, y: cy + 7, silent: true,
    style: { text: String(p.gen), font: '13px ' + SERIF, fill: '#000', textVerticalAlign: 'middle', verticalAlign: 'middle' } });
});

const chart = echarts.init(document.getElementById('main'), null, { renderer: 'canvas' });
chart.setOption({
  animation: false,
  backgroundColor: '#fff',
  grid, xAxis, yAxis, series, legend, graphic
});
</script>
</body>
</html>
